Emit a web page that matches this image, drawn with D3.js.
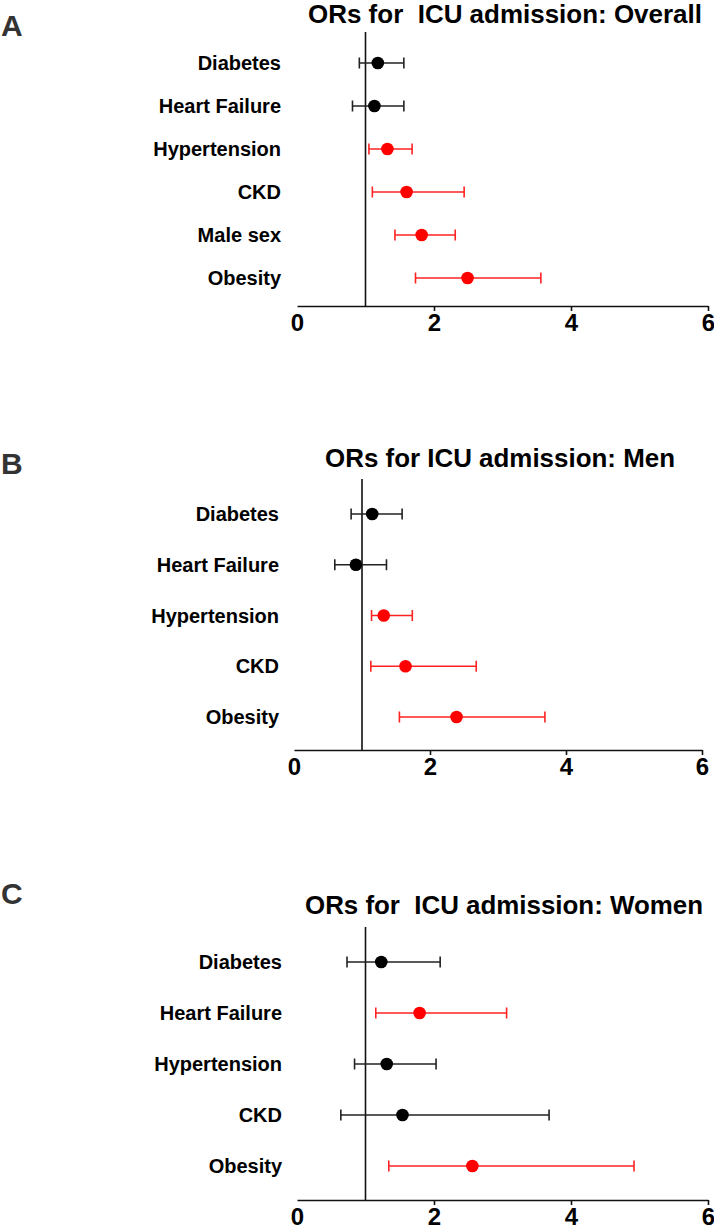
<!DOCTYPE html>
<html>
<head>
<meta charset="utf-8">
<script src="https://cdn.jsdelivr.net/npm/d3@7"></script>
<style>
  html, body { margin: 0; padding: 0; background: #fff; }
  svg { display: block; font-family: "Liberation Sans", Arial, sans-serif; }
</style>
</head>
<body>
<div id="chart"></div>
<script>
// ---- data (odds ratios with 95% CI) ----
var categoriesA = ["Diabetes", "Heart Failure", "Hypertension", "CKD", "Male sex", "Obesity"];
var orA   = [1.18, 1.13, 1.32, 1.60, 1.82, 2.49];
var lowA  = [0.91, 0.81, 1.05, 1.10, 1.43, 1.73];
var highA = [1.56, 1.56, 1.68, 2.44, 2.31, 3.56];
var sigA  = [false, false, true, true, true, true];

var categoriesB = ["Diabetes", "Heart Failure", "Hypertension", "CKD", "Obesity"];
var orB   = [1.15, 0.91, 1.32, 1.64, 2.39];
var lowB  = [0.84, 0.60, 1.14, 1.13, 1.55];
var highB = [1.59, 1.36, 1.74, 2.68, 3.69];
var sigB  = [false, false, true, true, true];

var categoriesC = ["Diabetes", "Heart Failure", "Hypertension", "CKD", "Obesity"];
var orC   = [1.23, 1.79, 1.31, 1.54, 2.56];
var lowC  = [0.73, 1.15, 0.84, 0.64, 1.34];
var highC = [2.09, 3.06, 2.03, 3.68, 4.92];
var sigC  = [false, true, false, false, true];

var xTicks = [0, 2, 4, 6];
var refValue = 1;

var W = 714, H = 1232;
var svg = d3.select("#chart").append("svg")
  .attr("width", W)
  .attr("height", H);

// panel layout (pixel positions only)
var panels = [
  {letter: "A", title: "ORs for\u00a0 ICU admission: Overall", titleW: 394, titleX: 308, titleY: 23,
   letterY: 36, x0: 297, x1: 708, axisY: 306, refTop: 32, rowTop: 63, rowBot: 278, labelX: 281,
   cats: categoriesA, or: orA, lo: lowA, hi: highA, sig: sigA},
  {letter: "B", title: "ORs for ICU admission: Men", titleW: 350, titleX: 325, titleY: 467,
   letterY: 474, x0: 294, x1: 702, axisY: 750, refTop: 479, rowTop: 514, rowBot: 717, labelX: 279,
   cats: categoriesB, or: orB, lo: lowB, hi: highB, sig: sigB},
  {letter: "C", title: "ORs for\u00a0 ICU admission: Women", titleW: 398, titleX: 305, titleY: 914,
   letterY: 904, x0: 297, x1: 708, axisY: 1200, refTop: 927, rowTop: 962, rowBot: 1166, labelX: 282,
   cats: categoriesC, or: orC, lo: lowC, hi: highC, sig: sigC}
];

panels.forEach(function(p) {
  var g = svg.append("g");

  var x = d3.scaleLinear().domain([0, 6]).range([p.x0, p.x1]);
  var y = d3.scalePoint().domain(p.cats).range([p.rowTop, p.rowBot]);

  var rows = p.cats.map(function(c, i) {
    return {cat: c, or: p.or[i], lo: p.lo[i], hi: p.hi[i], sig: p.sig[i]};
  });

  // panel letter
  g.append("text")
    .attr("x", 1)
    .attr("y", p.letterY)
    .attr("font-size", 30)
    .attr("font-weight", "bold")
    .attr("fill", "#333")
    .text(p.letter);

  // title
  g.append("text")
    .attr("x", p.titleX)
    .attr("y", p.titleY)
    .attr("font-size", 26)
    .attr("font-weight", "bold")
    .attr("textLength", p.titleW)
    .attr("lengthAdjust", "spacingAndGlyphs")
    .text(p.title);

  // x axis
  var axis = g.append("g")
    .attr("transform", "translate(0," + p.axisY + ")")
    .call(d3.axisBottom(x).tickValues(xTicks).tickFormat(d3.format("d"))
      .tickSize(5).tickSizeOuter(0).tickPadding(3));
  axis.select(".domain").attr("stroke", "#111").attr("stroke-width", 1.6);
  axis.selectAll(".tick line").attr("stroke", "#111").attr("stroke-width", 1.6)
    .filter(function(d) { return d === 0; }).remove();
  axis.selectAll(".tick text")
    .attr("font-size", 24)
    .attr("font-weight", "bold")
    .attr("fill", "#000")
    .attr("font-family", "Liberation Sans, Arial, sans-serif");

  // reference line at OR = 1
  g.append("line")
    .attr("x1", x(refValue)).attr("x2", x(refValue))
    .attr("y1", p.refTop).attr("y2", p.axisY)
    .attr("stroke", "#111").attr("stroke-width", 1.6);

  // category labels
  g.selectAll(".lab").data(rows).enter().append("text")
    .attr("class", "lab")
    .attr("x", p.labelX)
    .attr("y", function(d) { return y(d.cat); })
    .attr("dy", "0.36em")
    .attr("text-anchor", "end")
    .attr("font-size", 20)
    .attr("font-weight", "bold")
    .text(function(d) { return d.cat; });

  var col = function(d) { return d.sig ? "#ff0000" : "#000"; };
  var barCol = function(d) { return d.sig ? "#f22" : "#222"; };

  // CI lines
  g.selectAll(".ci").data(rows).enter().append("line")
    .attr("x1", function(d) { return x(d.lo); })
    .attr("x2", function(d) { return x(d.hi); })
    .attr("y1", function(d) { return y(d.cat); })
    .attr("y2", function(d) { return y(d.cat); })
    .attr("stroke", barCol).attr("stroke-width", 1.6);

  // caps
  ["lo", "hi"].forEach(function(k) {
    g.selectAll(".cap-" + k).data(rows).enter().append("line")
      .attr("x1", function(d) { return x(d[k]); })
      .attr("x2", function(d) { return x(d[k]); })
      .attr("y1", function(d) { return y(d.cat) - 5.5; })
      .attr("y2", function(d) { return y(d.cat) + 5.5; })
      .attr("stroke", barCol).attr("stroke-width", 1.6);
  });

  // points
  g.selectAll(".pt").data(rows).enter().append("circle")
    .attr("cx", function(d) { return x(d.or); })
    .attr("cy", function(d) { return y(d.cat); })
    .attr("r", 6.3)
    .attr("fill", col);
});
</script>
</body>
</html>
